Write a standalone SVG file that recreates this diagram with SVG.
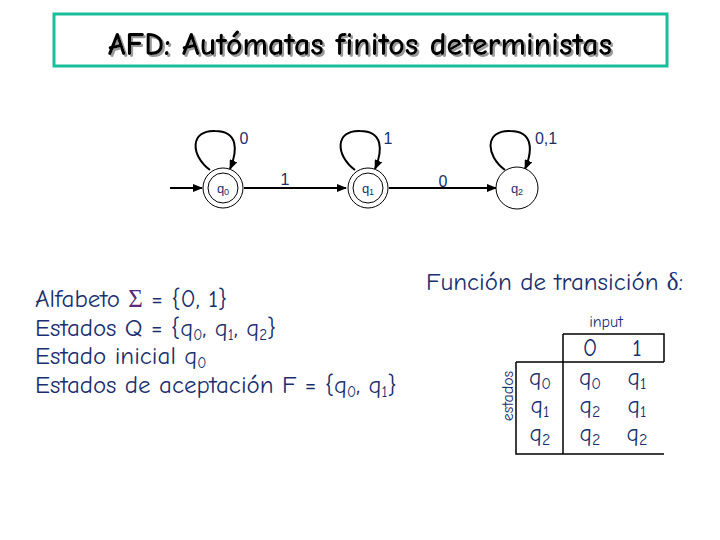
<svg xmlns="http://www.w3.org/2000/svg" width="720" height="540" viewBox="0 0 720 540">
<style>
.t{font-family:"Comic Neue","Liberation Sans",sans-serif;fill:#1a2f6e}
.st{font-family:"Liberation Sans",sans-serif;fill:#1a2f6e;font-size:13px;text-anchor:middle}
.lb{font-family:"Liberation Sans",sans-serif;fill:#1a2f6e;font-size:16px;text-anchor:middle}
.c{fill:#fff;stroke:#000;stroke-width:1}
.e{fill:none;stroke:#000;stroke-width:2}
.g{stroke:#000;stroke-width:1.5;fill:none}
</style>
<defs><marker id="a" markerWidth="10" markerHeight="8" refX="9" refY="4" orient="auto" markerUnits="userSpaceOnUse"><path d="M0,0 L10,4 L0,8 z" fill="#000"/></marker>
<filter id="sh"><feDropShadow dx="2" dy="2" stdDeviation="0.5" flood-color="#999"/></filter></defs>
<rect width="720" height="540" fill="#fff"/>
<g id="title">
<rect x="54" y="14" width="613" height="52" fill="#fff" stroke="#1abf9a" stroke-width="3"/>
<text x="360" y="55" font-family="Comic Neue,Liberation Sans,sans-serif" font-size="32" font-weight="bold" text-anchor="middle" fill="#000" filter="url(#sh)">AFD: Autómatas finitos deterministas</text>
</g>
<g id="connectors">
<line class="e" x1="170" y1="188" x2="202" y2="188" marker-end="url(#a)"/>
<line class="e" x1="244" y1="188" x2="346" y2="188" marker-end="url(#a)"/>
<line class="e" x1="389" y1="188" x2="496" y2="188" marker-end="url(#a)"/>
<path class="e" d="M210,170 C190,155 190,130 215,131 C238,131 238,150 230,169" marker-end="url(#a)"/>
<path class="e" d="M355,170 C335,155 335,130 360,131 C383,131 383,150 375,169" marker-end="url(#a)"/>
<path class="e" d="M505,170 C485,155 485,130 510,131 C533,131 533,150 525,169" marker-end="url(#a)"/>
<text class="lb" x="285" y="185">1</text>
<text class="lb" x="443" y="187">0</text>
<text class="lb" x="244" y="144">0</text>
<text class="lb" x="388" y="144">1</text>
<text class="lb" x="546" y="144">0,1</text>
</g>
<g id="q0"><circle class="c" cx="223" cy="188" r="20"/><circle class="c" cx="223" cy="188" r="15"/><text class="st" x="223" y="193">q<tspan font-size="9" dy="2">0</tspan></text></g>
<g id="q1"><circle class="c" cx="368" cy="188" r="20"/><circle class="c" cx="368" cy="188" r="15"/><text class="st" x="368" y="193">q<tspan font-size="9" dy="2">1</tspan></text></g>
<g id="q2"><circle class="c" cx="517" cy="188" r="21"/><text class="st" x="517" y="193">q<tspan font-size="9" dy="2">2</tspan></text></g>
<g id="info" class="t" font-size="25">
<text x="35" y="307">Alfabeto <tspan fill="#5a2a7a" font-family="Liberation Serif,serif">Σ</tspan> = {0, 1}</text>
<text x="35" y="336">Estados Q = {q<tspan font-size="15" dy="4">0</tspan><tspan dy="-4">, q</tspan><tspan font-size="15" dy="4">1</tspan><tspan dy="-4">, q</tspan><tspan font-size="15" dy="4">2</tspan><tspan dy="-4">}</tspan></text>
<text x="35" y="364">Estado inicial q<tspan font-size="15" dy="4">0</tspan></text>
<text x="35" y="393">Estados de aceptación F = {q<tspan font-size="15" dy="4">0</tspan><tspan dy="-4">, q</tspan><tspan font-size="15" dy="4">1</tspan><tspan dy="-4">}</tspan></text>
</g>
<g id="table">
<text class="t" x="426" y="290" font-size="25">Función de transición <tspan font-family="Liberation Serif,serif">δ</tspan>:</text>
<text class="t" x="606" y="327" font-size="16" text-anchor="middle">input</text>
<text class="t" font-size="16" text-anchor="middle" transform="translate(513,396) rotate(-90)">estados</text>
<path class="g" d="M563,334 H664 V362 M516,362 H664 M563,334 V454 M516,362 V454 H664"/>
<g class="t" font-size="24" text-anchor="middle">
<text x="590" y="356">0</text><text x="637" y="356">1</text>
<text x="540" y="385">q<tspan font-size="16" dy="4">0</tspan></text><text x="590" y="385">q<tspan font-size="16" dy="4">0</tspan></text><text x="637" y="385">q<tspan font-size="16" dy="4">1</tspan></text>
<text x="540" y="413">q<tspan font-size="16" dy="4">1</tspan></text><text x="590" y="413">q<tspan font-size="16" dy="4">2</tspan></text><text x="637" y="413">q<tspan font-size="16" dy="4">1</tspan></text>
<text x="540" y="441">q<tspan font-size="16" dy="4">2</tspan></text><text x="590" y="441">q<tspan font-size="16" dy="4">2</tspan></text><text x="637" y="441">q<tspan font-size="16" dy="4">2</tspan></text>
</g>
</g>
</svg>
